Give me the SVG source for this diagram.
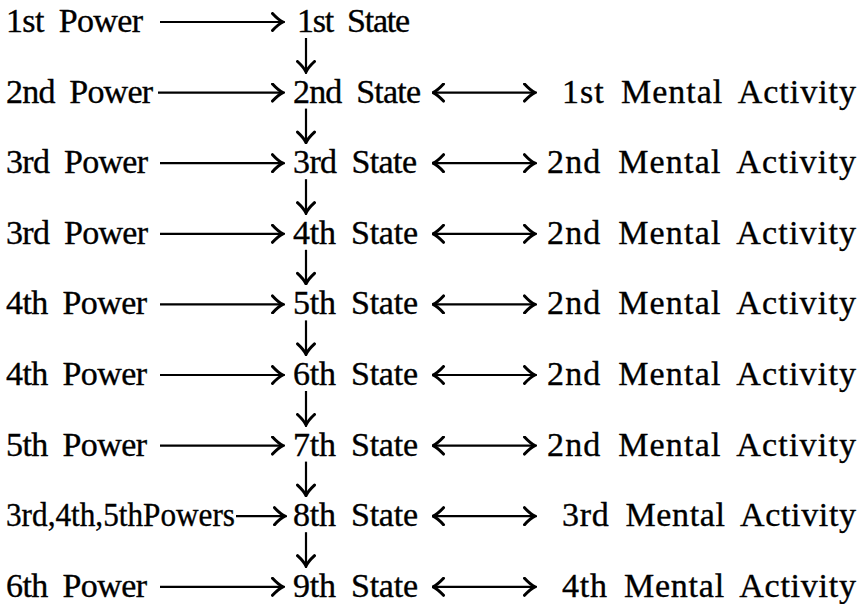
<svg xmlns="http://www.w3.org/2000/svg" width="862" height="604" viewBox="0 0 862 604">
  <style>
    text { font-family: "Liberation Serif", "Times New Roman", serif; font-size: 34px; fill: #000; stroke: #000; stroke-width: 0.35; word-spacing: 7px; }
    .shaft { stroke: #000; stroke-width: 2.2; fill: none; }
    .r { marker-end: url(#head); }
    .b { marker-start: url(#head); marker-end: url(#head); }
  </style>
  <defs>
    <marker id="head" viewBox="0 0 14 20" refX="12.5" refY="10" markerWidth="14" markerHeight="20" markerUnits="userSpaceOnUse" orient="auto-start-reverse">
      <path d="M2,1.5 Q8,8 12.5,10 Q8,12 2,18.5" fill="none" stroke="#000" stroke-width="3" stroke-linecap="round"/>
    </marker>
  </defs>
  <rect width="862" height="604" fill="#fff"/>

  <!-- powers (left column) -->
  <g id="power1"><text x="6" y="32" textLength="137">1st Power</text></g>
  <g id="power2"><text x="6" y="102.6" textLength="147">2nd Power</text></g>
  <g id="power3a"><text x="6" y="173.2" textLength="142">3rd Power</text></g>
  <g id="power3b"><text x="6" y="243.8" textLength="142">3rd Power</text></g>
  <g id="power4a"><text x="6" y="314.4" textLength="141">4th Power</text></g>
  <g id="power4b"><text x="6" y="385" textLength="141">4th Power</text></g>
  <g id="power5"><text x="6" y="455.6" textLength="141">5th Power</text></g>
  <g id="power345"><text x="6" y="526.2" textLength="229" lengthAdjust="spacingAndGlyphs">3rd,4th,5thPowers</text></g>
  <g id="power6"><text x="6" y="596.8" textLength="141">6th Power</text></g>

  <!-- states (middle column) -->
  <g id="state1"><text x="297" y="32" textLength="113">1st State</text></g>
  <g id="state2"><text x="293" y="102.6" textLength="128">2nd State</text></g>
  <g id="state3"><text x="293" y="173.2" textLength="124">3rd State</text></g>
  <g id="state4"><text x="293" y="243.8" textLength="125">4th State</text></g>
  <g id="state5"><text x="293" y="314.4" textLength="125">5th State</text></g>
  <g id="state6"><text x="293" y="385" textLength="125">6th State</text></g>
  <g id="state7"><text x="293" y="455.6" textLength="125">7th State</text></g>
  <g id="state8"><text x="293" y="526.2" textLength="125">8th State</text></g>
  <g id="state9"><text x="293" y="596.8" textLength="125">9th State</text></g>

  <!-- mental activities (right column) -->
  <g id="mental2"><text x="562" y="102.6" textLength="294">1st Mental Activity</text></g>
  <g id="mental3"><text x="547" y="173.2" textLength="309">2nd Mental Activity</text></g>
  <g id="mental4"><text x="547" y="243.8" textLength="309">2nd Mental Activity</text></g>
  <g id="mental5"><text x="547" y="314.4" textLength="309">2nd Mental Activity</text></g>
  <g id="mental6"><text x="547" y="385" textLength="309">2nd Mental Activity</text></g>
  <g id="mental7"><text x="547" y="455.6" textLength="309">2nd Mental Activity</text></g>
  <g id="mental8"><text x="562" y="526.2" textLength="294">3rd Mental Activity</text></g>
  <g id="mental9"><text x="562" y="596.8" textLength="294">4th Mental Activity</text></g>

  <g id="connectors" class="shaft">
    <!-- power to state -->
    <line class="r" x1="160" y1="22" x2="283" y2="22"/>
    <line class="r" x1="158" y1="92.6" x2="283" y2="92.6"/>
    <line class="r" x1="160" y1="163.2" x2="283" y2="163.2"/>
    <line class="r" x1="160" y1="233.8" x2="283" y2="233.8"/>
    <line class="r" x1="160" y1="304.4" x2="283" y2="304.4"/>
    <line class="r" x1="160" y1="375" x2="283" y2="375"/>
    <line class="r" x1="160" y1="445.6" x2="283" y2="445.6"/>
    <line class="r" x1="236" y1="516.2" x2="285" y2="516.2"/>
    <line class="r" x1="160" y1="586.8" x2="283" y2="586.8"/>
    <!-- state to next state -->
    <line class="r" x1="306" y1="38" x2="306" y2="72"/>
    <line class="r" x1="306" y1="108.6" x2="306" y2="142.6"/>
    <line class="r" x1="306" y1="179.2" x2="306" y2="213.2"/>
    <line class="r" x1="306" y1="249.8" x2="306" y2="283.8"/>
    <line class="r" x1="306" y1="320.4" x2="306" y2="354.4"/>
    <line class="r" x1="306" y1="391" x2="306" y2="425"/>
    <line class="r" x1="306" y1="461.6" x2="306" y2="495.6"/>
    <line class="r" x1="306" y1="532.2" x2="306" y2="566.2"/>
    <!-- state to mental activity -->
    <line class="b" x1="433" y1="92.6" x2="535" y2="92.6"/>
    <line class="b" x1="433" y1="163.2" x2="535" y2="163.2"/>
    <line class="b" x1="433" y1="233.8" x2="535" y2="233.8"/>
    <line class="b" x1="433" y1="304.4" x2="535" y2="304.4"/>
    <line class="b" x1="433" y1="375" x2="535" y2="375"/>
    <line class="b" x1="433" y1="445.6" x2="535" y2="445.6"/>
    <line class="b" x1="433" y1="516.2" x2="535" y2="516.2"/>
    <line class="b" x1="433" y1="586.8" x2="535" y2="586.8"/>
  </g>
</svg>
